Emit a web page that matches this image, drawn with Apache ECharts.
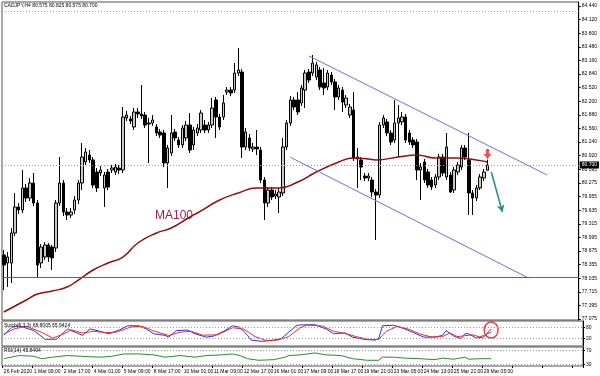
<!DOCTYPE html>
<html>
<head>
<meta charset="utf-8">
<script src="https://cdn.jsdelivr.net/npm/echarts@6/dist/echarts.min.js"></script>
<style>html,body{margin:0;padding:0;background:#fff}#c{width:600px;height:376px}</style>
</head>
<body>
<div id="c"></div>
<script>
const titleText = 'CADJPY,H4 80.575 80.825 80.575 80.700';
const stochText = 'Stoch(5,3,3) 68.8005 65.9424';
const rsiText = 'RSI(14) 45.8494';
const maText = 'MA100';
const tickLabels = ["26 Feb 2020","1 Mar 09:00","2 Mar 17:00","4 Mar 01:00","5 Mar 09:00","8 Mar 17:00","10 Mar 01:00","11 Mar 09:00","12 Mar 17:00","16 Mar 01:00","17 Mar 09:00","18 Mar 17:00","19 Mar 21:00","23 Mar 05:00","24 Mar 13:00","25 Mar 21:00","29 Mar 05:00"];
const priceTicks = [84.440,84.120,83.800,83.480,83.160,82.840,82.520,82.200,81.880,81.560,81.240,80.920,80.595,80.275,79.955,79.635,79.315,78.995,78.675,78.355,78.035,77.715,77.395,77.075];
const stochTicks = [100,80,20,0];
const stochLevels = [80,20];
const rsiTicks = [70,30];
const rsiLevels = [70,30];

const opens = [78.581,78.393,78.393,79.099,79.711,79.640,80.158,79.922,80.275,79.805,78.393,78.534,78.817,78.769,78.746,79.805,80.275,79.593,79.522,79.640,79.875,80.275,80.770,80.934,80.817,80.534,80.511,80.158,80.534,80.581,80.534,80.628,80.581,81.805,81.781,81.593,81.946,81.899,81.875,81.687,81.687,81.593,81.475,81.452,80.746,80.981,81.475,81.287,81.170,81.334,81.640,81.170,81.452,81.522,81.640,81.522,81.640,82.228,81.828,81.828,82.416,82.463,82.463,82.863,82.887,81.122,81.334,81.075,81.122,81.052,80.346,79.805,80.111,79.969,79.946,80.040,81.122,81.687,82.228,82.228,82.157,82.463,82.887,82.863,82.769,82.934,82.628,82.534,82.816,82.652,82.299,82.463,82.110,81.875,81.993,80.840,80.817,80.440,80.393,80.346,80.063,79.993,81.640,81.711,81.452,81.287,81.687,81.711,81.828,81.452,81.287,81.240,80.581,80.770,80.534,80.346,80.228,80.417,80.887,80.417,80.464,80.111,80.534,80.652,81.099,80.817,80.040,79.922,80.158,80.393,80.575];
const closes = [78.346,78.534,79.099,79.711,79.640,80.158,79.922,80.275,79.805,78.346,78.769,78.817,78.534,78.511,79.805,80.275,79.593,79.522,79.593,79.875,80.275,80.887,81.005,80.817,80.228,80.158,80.581,80.464,80.181,80.628,80.652,80.581,81.828,81.875,81.734,81.946,81.899,81.852,81.640,81.664,81.758,81.452,81.405,80.746,81.099,81.452,81.334,81.170,81.570,81.640,81.052,81.522,81.570,81.922,81.522,81.640,82.040,81.828,81.593,82.157,82.463,82.393,82.863,82.934,81.122,81.475,81.099,81.122,81.075,80.346,79.805,80.111,79.946,80.016,80.063,81.122,81.687,82.228,82.063,81.946,82.511,82.863,82.699,83.099,83.052,82.534,82.511,82.863,82.652,82.299,82.511,82.181,82.275,82.063,80.864,80.887,80.652,80.393,80.440,80.063,79.993,81.640,81.805,81.452,81.240,81.687,81.805,81.828,81.287,81.240,81.170,80.581,80.652,80.346,80.228,80.181,80.417,80.887,80.511,81.122,80.063,80.581,80.699,81.099,80.887,80.040,79.922,80.158,80.417,80.534,80.700];
const lows = [77.757,77.828,77.922,79.028,79.546,79.570,79.828,79.852,79.734,78.040,78.275,78.463,78.416,78.228,78.652,79.734,79.499,79.405,79.452,79.546,79.781,80.111,80.699,80.746,80.158,80.063,80.440,79.711,80.111,80.511,80.464,80.487,80.511,81.734,81.664,81.522,81.805,81.781,81.570,80.746,81.617,81.381,81.334,80.652,80.158,80.911,81.264,81.099,81.099,81.264,80.981,81.052,81.381,81.452,81.452,81.452,81.570,81.334,81.522,81.758,82.346,82.322,82.393,82.793,80.864,81.052,81.028,81.005,80.934,80.275,79.405,79.711,79.875,79.899,79.570,79.969,81.052,81.617,81.993,81.875,82.087,82.040,82.628,82.793,82.699,82.463,82.346,82.463,82.581,81.993,82.228,81.946,82.040,81.805,80.793,80.158,80.346,80.322,80.322,79.946,78.934,79.922,81.570,81.381,81.170,81.217,80.887,81.640,81.217,81.170,81.099,80.346,79.875,80.275,80.158,80.111,80.158,80.346,80.440,80.346,80.040,80.040,80.464,80.581,80.817,79.522,79.522,79.852,80.111,80.322,80.575];
const highs = [78.699,78.652,79.216,80.040,79.805,80.581,80.252,80.393,80.511,79.875,78.840,78.887,78.864,78.817,79.875,80.887,80.346,79.687,79.687,79.969,80.346,81.217,81.099,81.052,80.887,80.628,80.675,80.534,80.605,80.699,80.723,80.699,82.063,81.969,81.852,82.040,82.040,82.581,81.946,81.805,81.875,81.664,81.546,81.522,81.170,81.875,81.546,81.358,81.640,81.734,81.922,81.593,81.664,81.993,81.758,81.711,82.275,82.299,81.899,82.346,82.534,82.534,83.099,83.452,82.958,81.570,81.428,81.217,81.522,81.122,80.417,80.181,80.181,80.111,80.158,81.334,81.758,82.322,82.299,82.416,82.581,82.934,82.958,83.287,83.122,83.005,82.981,82.934,82.887,82.722,82.581,82.534,82.346,82.134,82.416,81.099,80.887,80.511,80.511,80.417,80.134,81.711,81.875,81.781,81.522,82.228,82.110,81.946,81.899,81.522,81.358,81.311,80.746,80.840,80.605,80.417,80.487,80.958,80.958,81.452,80.534,80.652,80.770,81.170,81.170,81.452,80.111,80.228,80.487,80.605,80.825];

const ma100 = [[0,77.240],[6,77.522],[9,77.663],[13,77.734],[17,77.828],[20,77.993],[24,78.228],[28,78.393],[32,78.534],[36,78.864],[41,79.099],[45,79.216],[50,79.475],[52,79.570],[58,79.875],[63,80.040],[68,80.158],[74,80.158],[79,80.299],[84,80.534],[90,80.770],[94,80.864],[98,80.840],[100,80.817],[106,80.887],[111,80.934],[116,80.864],[122,80.864],[127,80.817],[130,80.770]];
const upperChannel = [[82,83.264],[146,80.464]];
const lowerChannel = [[77,80.880],[141,78.040]];
const bidPrice = 80.700;
const redLevel = 78.050;
const topLevel = 84.320;
const arrowStart = [131,80.534];
const arrowEnd = [134,79.593];
const sellMark = [[130,80.958]];

const stochMain = [[0,37],[2,82],[4,91],[8,64],[11,15],[14,15],[17,73],[19,55],[21,37],[23,73],[26,58],[28,46],[31,69],[33,91],[36,91],[38,73],[40,46],[43,37],[44,27],[46,64],[49,67],[51,46],[54,27],[56,33],[59,64],[61,91],[63,82],[65,37],[66,10],[69,3],[72,10],[74,19],[76,55],[78,91],[79,96],[83,97],[86,73],[88,46],[91,51],[93,27],[96,15],[99,10],[100,19],[101,91],[104,94],[107,73],[109,55],[112,27],[115,27],[117,37],[118,64],[120,33],[122,19],[123,46],[124,46],[126,22],[128,27],[130,73]];
const stochSignal = [[0,45],[3,75],[6,88],[10,55],[13,22],[16,45],[18,68],[21,50],[24,60],[27,52],[30,55],[34,85],[37,88],[40,62],[44,36],[47,55],[50,60],[53,38],[57,40],[61,80],[64,72],[67,30],[70,8],[73,10],[76,30],[79,80],[81,95],[85,90],[88,60],[91,48],[94,30],[97,15],[100,14],[102,60],[105,88],[108,72],[111,45],[114,28],[117,30],[119,50],[121,30],[123,35],[125,40],[127,28],[130,55]];
const circleMark = [[130,67]];
const rsi = [[0,46],[4,54.8],[8,52.9],[10,46],[13,50.3],[17,54.8],[22,52],[26,50.3],[29,52.9],[32,59.3],[36,59.3],[40,56.7],[43,50.3],[47,54.8],[51,50.3],[54,54.8],[58,56.7],[61,59.3],[63,54.8],[65,46],[68,41.5],[72,43.3],[75,50.3],[76,54.8],[79,56.7],[83,62],[86,56.7],[90,54.8],[93,46],[97,41.5],[100,41.5],[101,50.3],[104,50.3],[107,47.6],[111,46],[115,43.3],[117,47.6],[120,44.5],[123,50.3],[124,44.5],[127,46],[130,46]];

const catCount = 155;
const cats = Array.from({length: catCount}, (_, i) => String(i));
const candleData = opens.map((o, i) => [o, closes[i], lows[i], highs[i]]);

const chart = echarts.init(document.getElementById('c'), null, {renderer: 'canvas'});
const small = {fontSize: 5, color: '#000', fontFamily: 'Liberation Sans'};
const dotted = {color: '#9a9a9a', type: [1, 2], width: 1};

function xAx(g) {
  return {
    type: 'category', gridIndex: g, data: cats, boundaryGap: true,
    axisLine: {show: false},
    axisTick: {show: g === 2, interval: 7, length: 2, lineStyle: {color: '#000'}},
    axisLabel: Object.assign({show: g === 2, interval: 7, align: 'left', margin: 3,
      showMinLabel: true, hideOverlap: false,
      formatter: (v, i) => tickLabels[i / 8] || ''}, small),
    splitLine: {show: false}
  };
}
function yAx(g, min, max, ticks, fmt) {
  return {
    type: 'value', gridIndex: g, position: 'right', min: min, max: max,
    axisLine: {show: true, lineStyle: {color: '#000'}},
    axisTick: {show: true, length: 2, customValues: ticks, lineStyle: {color: '#000'}},
    axisLabel: Object.assign({margin: 3, customValues: ticks, formatter: fmt}, small),
    splitLine: {show: false}
  };
}

chart.setOption({
  animation: false,
  backgroundColor: '#fff',
  title: [
    {text: titleText, left: 4, top: 3, padding: 0, textStyle: Object.assign({fontWeight: 'normal'}, small)},
    {text: stochText, left: 4, top: 323, padding: 0, textStyle: Object.assign({fontWeight: 'normal'}, small)},
    {text: rsiText, left: 4, top: 348, padding: 0, textStyle: Object.assign({fontWeight: 'normal'}, small)},
    {text: maText, left: 155, top: 210, padding: 0, textStyle: {fontSize: 12, fontWeight: 'normal', color: '#93264e', fontFamily: 'Liberation Sans'}}
  ],
  grid: [
    {left: 2, right: 17, top: 2, height: 318, show: true, borderColor: '#555', borderWidth: 1},
    {left: 2, right: 17, top: 321, height: 25, show: true, borderColor: '#555', borderWidth: 1},
    {left: 2, right: 17, top: 347, height: 19, show: true, borderColor: '#555', borderWidth: 1}
  ],
  xAxis: [xAx(0), xAx(1), xAx(2)],
  yAxis: [
    yAx(0, 77.052, 84.534, priceTicks, v => v.toFixed(3)),
    yAx(1, -23, 118, stochTicks, v => String(v)),
    yAx(2, 25.5, 78.8, rsiTicks, v => String(v))
  ],
  series: [
    {
      type: 'candlestick', xAxisIndex: 0, yAxisIndex: 0, data: candleData, barWidth: 3,
      itemStyle: {color: '#c8c8c8', color0: '#000', borderColor: '#000', borderColor0: '#000', borderWidth: 1},
      markLine: {
        silent: true, symbol: 'none',
        data: [
          {yAxis: topLevel, lineStyle: dotted, label: {show: false}},
          {yAxis: redLevel, lineStyle: {color: '#e03030', type: 'solid', width: 1}, label: {show: false}},
          {yAxis: bidPrice, lineStyle: dotted,
            label: {show: true, position: 'end', distance: 1, formatter: bidPrice.toFixed(3),
              backgroundColor: '#000', color: '#fff', fontSize: 5, padding: [1, 2], fontFamily: 'Liberation Sans'}}
        ]
      }
    },
    {type: 'line', xAxisIndex: 0, yAxisIndex: 0, data: ma100, smooth: true, showSymbol: false,
      lineStyle: {color: '#8b1010', width: 1.5}},
    {type: 'line', xAxisIndex: 0, yAxisIndex: 0, data: upperChannel, showSymbol: false,
      lineStyle: {color: '#7070d8', width: 1}},
    {type: 'line', xAxisIndex: 0, yAxisIndex: 0, data: lowerChannel, showSymbol: false,
      lineStyle: {color: '#7070d8', width: 1},
      markLine: {silent: true, symbol: ['none', 'arrow'], symbolSize: [6, 7],
        lineStyle: {color: '#1e8c8c', width: 1.5, type: 'solid'}, label: {show: false},
        data: [[{coord: arrowStart}, {coord: arrowEnd}]]}},
    {type: 'scatter', xAxisIndex: 0, yAxisIndex: 0, data: sellMark,
      symbol: 'path://M3,0 L7,0 L7,5 L10,5 L5,10 L0,5 L3,5 Z', symbolSize: [8, 10],
      itemStyle: {color: '#e8232a'}},
    {type: 'line', xAxisIndex: 1, yAxisIndex: 1, data: stochMain, showSymbol: false,
      lineStyle: {color: '#3030d0', width: 1},
      markLine: {silent: true, symbol: 'none', label: {show: false}, lineStyle: dotted,
        data: stochLevels.map(v => ({yAxis: v}))}},
    {type: 'line', xAxisIndex: 1, yAxisIndex: 1, data: stochSignal, showSymbol: false,
      lineStyle: {color: '#e83030', width: 1}},
    {type: 'scatter', xAxisIndex: 1, yAxisIndex: 1, data: circleMark, symbol: 'circle', symbolSize: [14, 16],
      itemStyle: {color: 'rgba(0,0,0,0)', borderColor: '#e01010', borderWidth: 1.5}},
    {type: 'line', xAxisIndex: 2, yAxisIndex: 2, data: rsi, showSymbol: false,
      lineStyle: {color: '#2e8b2e', width: 1},
      markLine: {silent: true, symbol: 'none', label: {show: false}, lineStyle: dotted,
        data: rsiLevels.map(v => ({yAxis: v}))}}
  ]
});
</script>
</body>
</html>
